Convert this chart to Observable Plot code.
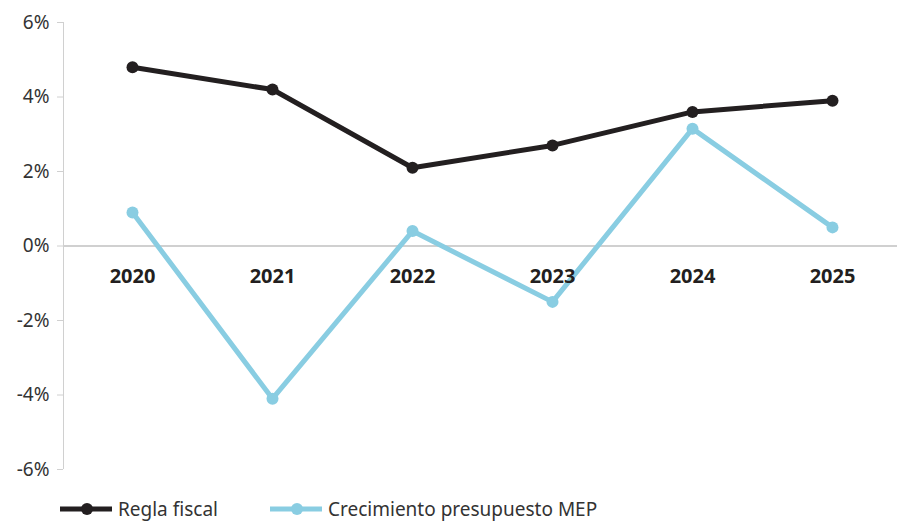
<!DOCTYPE html>
<html><head><meta charset="utf-8">
<script src="https://cdn.jsdelivr.net/npm/d3@7"></script>
<script src="https://cdn.jsdelivr.net/npm/@observablehq/plot@0.6"></script>
<style>
body{margin:0;background:#fff;font-family:"Noto Sans",sans-serif;}
#legend{position:relative;height:31px;font-size:19px;color:#333;}
.item{display:flex;align-items:center;position:absolute;line-height:26px;}
</style></head>
<body><div id="chart"></div><div id="legend"></div>
<script>
const years = ["2020","2021","2022","2023","2024","2025"];
const reglaFiscal = [4.8, 4.2, 2.1, 2.7, 3.6, 3.9];
const crecimientoMEP = [0.9, -4.1, 0.4, -1.5, 3.15, 0.5];
const yTicks = [-6, -4, -2, 0, 2, 4, 6];
const seriesNames = ["Regla fiscal", "Crecimiento presupuesto MEP"];
const colors = ["#231f20", "#89cde2"];

const data = [];
years.forEach((yr, i) => {
  data.push({year: yr, value: reglaFiscal[i], serie: seriesNames[0]});
  data.push({year: yr, value: crecimientoMEP[i], serie: seriesNames[1]});
});

const chart = Plot.plot({
  width: 898, height: 490,
  marginLeft: 63, marginRight: 1, marginTop: 22, marginBottom: 21,
  style: {fontFamily: "Noto Sans, sans-serif", fontSize: "19px", color: "#333", overflow: "visible"},
  x: {type: "point", domain: years, range: [132, 832], padding: 0, axis: null},
  y: {domain: [-6, 6], ticks: yTicks, tickFormat: d => d + "%", label: null},
  color: {domain: seriesNames, range: colors},
  marks: [
    Plot.ruleY([0], {stroke: "#d0d0d0", strokeWidth: 2}),
    Plot.axisY({ticks: yTicks, tickFormat: d => d + "%", tickSize: 6, tickPadding: 8, stroke: "#d0d0d0", fill: "#333", fontSize: 19, label: null}),
    Plot.line(data, {x: "year", y: "value", stroke: "serie", z: "serie", strokeWidth: 5}),
    Plot.dot(data, {x: "year", y: "value", fill: "serie", r: 6}),
    Plot.text(years, {x: d => d, y: () => 0, dy: 31, text: d => d, fontWeight: "bold", fontSize: 20, fill: "#231f20"})
  ]
});
document.getElementById("chart").appendChild(chart);

// y axis line
const svg = d3.select(chart);
svg.insert("line", ":first-child").attr("x1", 63.5).attr("x2", 63.5).attr("y1", 22).attr("y2", 469).attr("stroke", "#d0d0d0");

const legend = document.getElementById("legend");
const legendX = [60, 270];
seriesNames.forEach((name, i) => {
  const item = document.createElement("div");
  item.className = "item";
  item.style.left = legendX[i] + "px";
  item.style.top = "6px";
  item.innerHTML = `<svg width="54" height="14"><line x1="0" x2="52" y1="7" y2="7" stroke="${colors[i]}" stroke-width="5"/><circle cx="27" cy="7" r="6" fill="${colors[i]}"/></svg><span style="margin-left:4px">${name}</span>`;
  legend.appendChild(item);
});
</script></body></html>
